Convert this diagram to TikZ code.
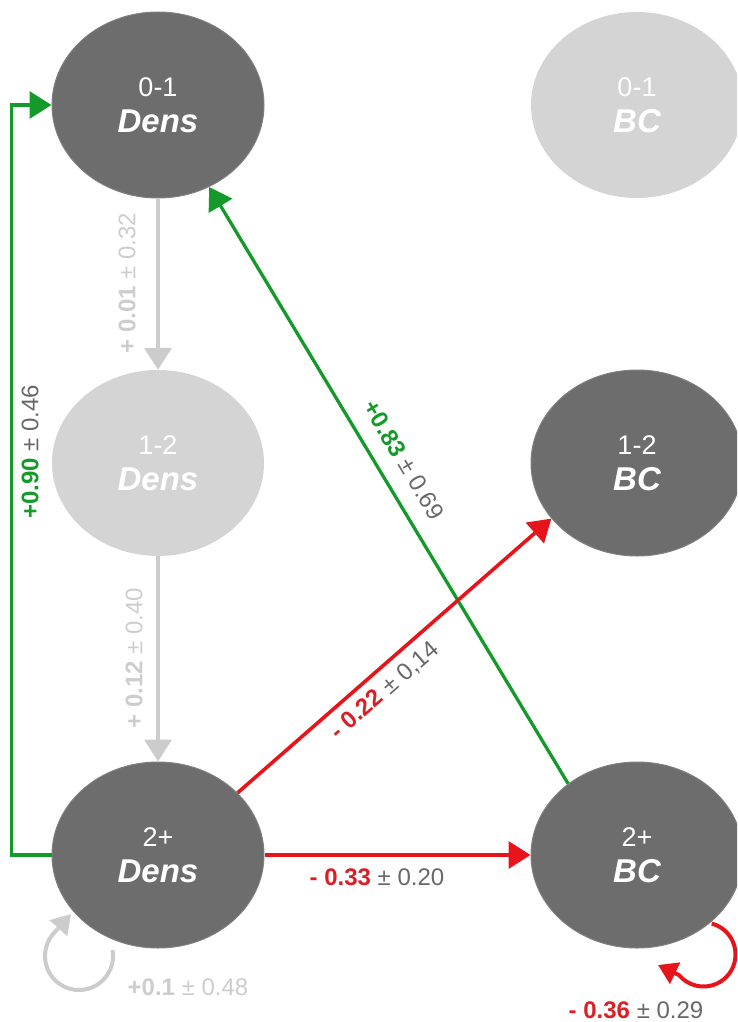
\documentclass[tikz,border=0pt]{standalone}
\usepackage{fontspec}
\setmainfont{Liberation Sans}
\usetikzlibrary{shapes.geometric,arrows.meta}

\definecolor{nodedark}{HTML}{6D6D6D}
\definecolor{nodeedge}{HTML}{808080}
\definecolor{nodelight}{HTML}{D4D4D4}
\definecolor{edgegreen}{HTML}{149A2A}
\definecolor{edgered}{HTML}{E8141B}
\definecolor{edgegray}{HTML}{CCCCCC}
\definecolor{labred}{HTML}{DA1F26}
\definecolor{labgray}{HTML}{686868}
\definecolor{lablight}{HTML}{CDCDCD}

\newcommand{\stname}[2]{#1\\{\fontsize{33}{36}\selectfont\bfseries\itshape #2}}

\begin{document}
\begin{tikzpicture}[x=1pt,y=1pt,
  state/.style={ellipse, minimum width=212pt, minimum height=186pt, inner sep=0pt,
    text=white, align=center, font=\fontsize{27}{36}\selectfont},
  active/.style={state, fill=nodedark, draw=nodeedge, line width=1pt},
  passive/.style={state, fill=nodelight},
  bigtip/.style={-{Triangle[length=22pt,width=27pt]}},
  looptip/.style={-{Triangle[length=19pt,width=23pt]}},
  greenline/.style={draw=edgegreen, line width=3.3pt, bigtip},
  redline/.style={draw=edgered, line width=3.6pt, bigtip},
  grayline/.style={draw=edgegray, line width=4pt, bigtip},
  redloop/.style={draw=edgered, line width=4pt, looptip},
  grayloop/.style={draw=edgegray, line width=4pt, looptip},
  lbl/.style={inner sep=0pt, font=\fontsize{24}{28}\selectfont}
]
\clip (0,0) rectangle (737,-1022);
\useasboundingbox (0,0) rectangle (737,-1022);

% states
\node[active]  (d0) at (158,-105) {\stname{0-1}{Dens}};
\node[passive] (d1) at (158,-463) {\stname{1-2}{Dens}};
\node[active]  (d2) at (158,-855) {\stname{2+}{Dens}};
\node[passive] (b0) at (637,-105) {\stname{0-1}{BC}};
\node[active]  (b1) at (637,-463) {\stname{1-2}{BC}};
\node[active]  (b2) at (637,-855) {\stname{2+}{BC}};

% transitions
\draw[greenline] (d2.west) -- ++(-40,0) |- (d0.west);
\draw[grayline] (d0.south) -- (d1.north);
\draw[grayline] (d1.south) -- (d2.north);
\draw[greenline] (b2.134) -- (d0.-58);
\draw[redline] (d2.38) -- (b1.213);
\draw[redline] (d2.east) -- (b2.west);

% self transitions
\coordinate (gtip) at (71,-914);
\coordinate (rtip) at (658,-965);
\draw[grayloop] (79,-956) ++(10:34) arc[start angle=10, end angle=-225, radius=34] -- (gtip);
\draw[redloop] (703.5,-954.5) ++(75:32) arc[start angle=75, end angle=-140, radius=32] -- (rtip);

% labels
\node[lbl, rotate=90] (l1) at (30,-452)
  {\textcolor{edgegreen}{\bfseries +0.90} \textcolor{labgray}{± 0.46}};
\node[lbl, rotate=90, text=lablight] (l2) at (127,-283)
  {\bfseries + 0.01 \mdseries ± 0.32};
\node[lbl, rotate=90, text=lablight] (l3) at (134,-658)
  {\bfseries + 0.12 \mdseries ± 0.40};
\node[lbl, rotate=-59] (l4) at (404,-460)
  {\textcolor{edgegreen}{\bfseries +0.83} \textcolor{labgray}{± 0.69}};
\node[lbl, rotate=41] (l5) at (385,-691)
  {\textcolor{labred}{\bfseries - 0.22} \textcolor{labgray}{± 0,14}};
\node[lbl] (l6) at (377,-877)
  {\textcolor{labred}{\bfseries - 0.33} \textcolor{labgray}{± 0.20}};
\node[lbl, text=lablight] (l7) at (188,-987)
  {\bfseries +0.1 \mdseries ± 0.48};
\node[lbl] (l8) at (636,-1010)
  {\textcolor{labred}{\bfseries - 0.36} \textcolor{labgray}{± 0.29}};
\end{tikzpicture}
\end{document}
